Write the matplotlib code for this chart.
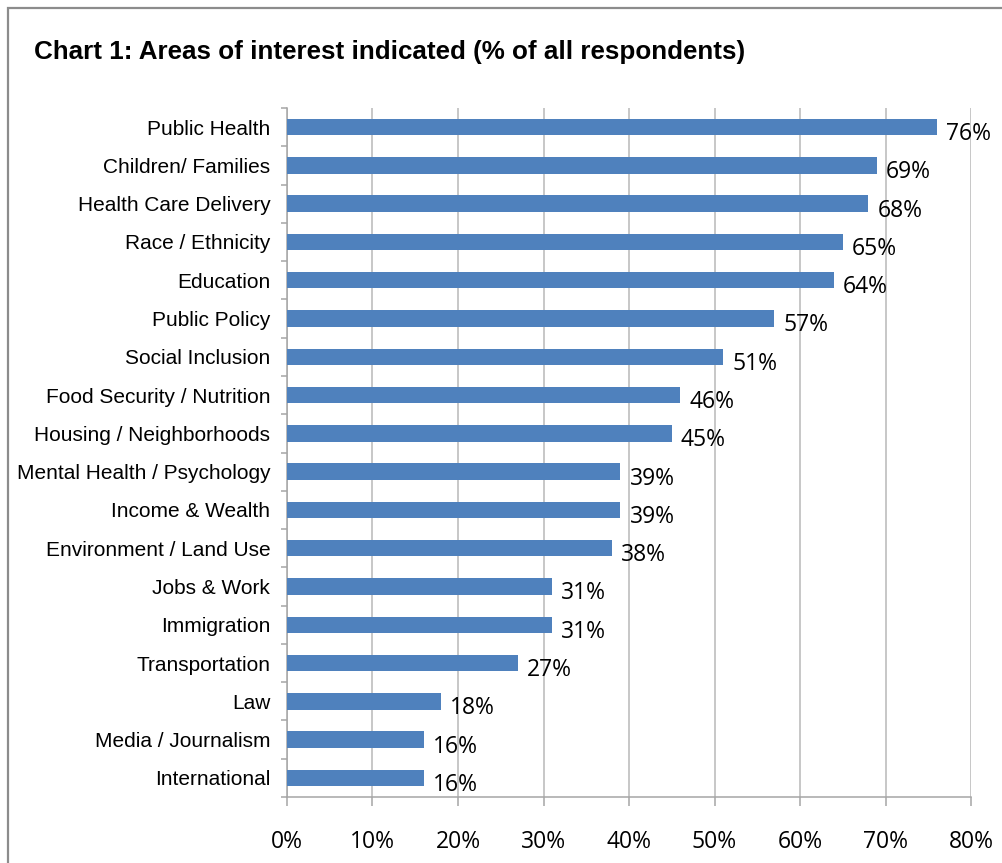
import numpy as np
import matplotlib
matplotlib.use("Agg")
import matplotlib.pyplot as plt
from matplotlib.patches import Rectangle
from matplotlib.ticker import FixedLocator, PercentFormatter

# Survey results: share of respondents who named each area
areas = [
    "Public Health", "Children/ Families", "Health Care Delivery",
    "Race / Ethnicity", "Education", "Public Policy", "Social Inclusion",
    "Food Security / Nutrition", "Housing / Neighborhoods",
    "Mental Health / Psychology", "Income & Wealth",
    "Environment / Land Use", "Jobs & Work", "Immigration",
    "Transportation", "Law", "Media / Journalism", "International",
]
share = [76, 69, 68, 65, 64, 57, 51, 46, 45, 39, 39, 38, 31, 31, 27, 18, 16, 16]
x_ticks = [0, 10, 20, 30, 40, 50, 60, 70, 80]

W, H = 1003, 863
fig = plt.figure(figsize=(W / 100, H / 100), dpi=100)
ax = fig.add_axes([287 / W, 1 - 797 / H, (971 - 287) / W, (797 - 108) / H])

y = np.arange(len(areas))
ax.barh(y, share, height=0.43, color="#4f81bd", zorder=3)

# value labels just past the end of each bar
for yi, v in zip(y, share):
    ax.annotate(f"{v}%", (v, yi), xytext=(6.5, -5), textcoords="offset points",
                ha="left", va="center", fontsize=16.5, family="Open Sans",
                zorder=4)

ax.set_xlim(0, 80)
ax.set_ylim(len(areas) - 0.5, -0.5)

ax.set_xticks(x_ticks)
ax.xaxis.set_major_formatter(PercentFormatter(decimals=0))
ax.tick_params(axis="x", length=6.5, width=1.1, color="#a6a6a6", pad=17,
               labelsize=16.5)
for lbl in ax.get_xticklabels():
    lbl.set_family("Open Sans")

ax.set_yticks(y)
ax.set_yticklabels(areas, family="Liberation Sans", fontsize=15)
ax.tick_params(axis="y", which="major", length=0, pad=12)
ax.yaxis.set_minor_locator(FixedLocator(np.arange(-0.5, len(areas), 1)))
ax.tick_params(axis="y", which="minor", length=4.5, width=1.1, color="#a6a6a6")

ax.grid(axis="x", color="#b8b8b8", linewidth=1.1, zorder=0)
ax.set_axisbelow(True)
for side in ("top", "right"):
    ax.spines[side].set_visible(False)
for side in ("left", "bottom"):
    ax.spines[side].set_color("#a6a6a6")
    ax.spines[side].set_linewidth(1.1)

fig.text(34 / W, 1 - 52 / H, "Chart 1: Areas of interest indicated (% of all respondents)",
         ha="left", va="center", fontsize=18.7, fontweight="bold",
         family="Liberation Sans")

# outer chart border (runs off the right and bottom edges)
fig.add_artist(Rectangle((8 / W, -0.05), 1.1, 1.05 - 8 / H,
                         transform=fig.transFigure, fill=False,
                         edgecolor="#8c8c8c", linewidth=1.6))

fig.savefig("out.png", dpi=100)
